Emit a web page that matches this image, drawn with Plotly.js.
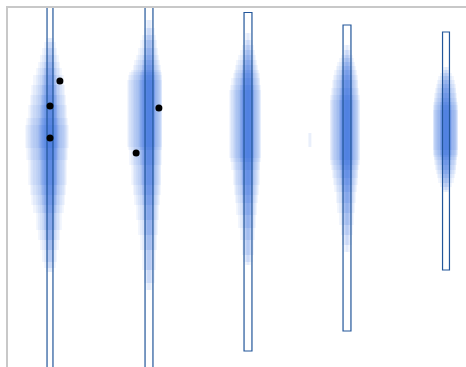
<!DOCTYPE html>
<html>
<head>
<meta charset="utf-8">
<script src="https://cdn.plot.ly/plotly-3.0.1.min.js"></script>
<style>
  html, body { margin: 0; padding: 0; background: #fff; }
  #chart { width: 466px; height: 367px; }
</style>
</head>
<body>
<div id="chart"></div>
<script>
// Five groups, each drawn as a stack of translucent density bands,
// an outlined range box and a few individual observations.
const categories = [1, 2, 3, 4, 5];

// Density bands, from the tallest/narrowest to the shortest/widest;
// one row per band, one entry per group.
const bandLow = [
  [95, 77, 102, 115, 175],
  [99, 84, 105, 122, 177],
  [105, 97, 112, 132, 180],
  [117, 117, 127, 142, 184],
  [127, 132, 139, 154, 189],
  [137, 147, 152, 164, 193],
  [154, 162, 164, 175, 197],
  [162, 172, 172, 182, 202],
  [172, 182, 182, 189, 207],
  [182, 202, 197, 197, 210],
  [207, 217, 205, 202, 212],
  [219, 220, 209, 207, 217]
];
const bandHigh = [
  [329, 347, 334, 322, 300],
  [325, 339, 327, 317, 297],
  [319, 332, 322, 312, 294],
  [312, 327, 317, 309, 291],
  [305, 319, 312, 305, 287],
  [299, 312, 307, 301, 283],
  [292, 307, 302, 297, 279],
  [282, 302, 297, 292, 274],
  [272, 297, 294, 287, 269],
  [262, 295, 289, 279, 265],
  [249, 292, 282, 272, 262],
  [242, 287, 277, 267, 257]
];
// Spread of each band to the left and right of its group (category units).
const bandLeft = [
  [0.04, 0.04, 0.03, 0.03, 0.03],
  [0.06, 0.05, 0.05, 0.05, 0.04],
  [0.08, 0.07, 0.06, 0.06, 0.06],
  [0.10, 0.09, 0.08, 0.08, 0.08],
  [0.12, 0.11, 0.10, 0.10, 0.09],
  [0.14, 0.13, 0.12, 0.11, 0.10],
  [0.17, 0.15, 0.13, 0.13, 0.11],
  [0.19, 0.16, 0.14, 0.14, 0.12],
  [0.20, 0.18, 0.15, 0.15, 0.12],
  [0.22, 0.20, 0.17, 0.16, 0.13],
  [0.24, 0.21, 0.18, 0.17, 0.13],
  [0.25, 0.22, 0.19, 0.17, 0.13]
];
const bandRight = [
  [0.04, 0.04, 0.03, 0.03, 0.03],
  [0.06, 0.06, 0.05, 0.05, 0.04],
  [0.07, 0.07, 0.06, 0.06, 0.06],
  [0.09, 0.08, 0.07, 0.07, 0.08],
  [0.10, 0.09, 0.08, 0.08, 0.09],
  [0.12, 0.10, 0.09, 0.09, 0.10],
  [0.14, 0.11, 0.10, 0.10, 0.10],
  [0.15, 0.12, 0.11, 0.11, 0.11],
  [0.16, 0.12, 0.12, 0.11, 0.11],
  [0.17, 0.13, 0.12, 0.12, 0.12],
  [0.18, 0.13, 0.13, 0.13, 0.12],
  [0.19, 0.13, 0.13, 0.13, 0.12]
];

// A lone faint band beside the fourth group.
const strayX = [4];
const strayLow = [220];
const strayHigh = [234];
const strayOffset = [-0.39];
const strayWidth = [0.03];

// Range boxes per group.
const boxLow = [-10, -10, 16, 36, 97];
const boxHigh = [375, 375, 354.5, 342, 335];
const boxWidth = [0.06, 0.08, 0.08, 0.08, 0.07];

// Individual observations.
const pointX = [1.10, 1.0, 1.0, 2.10, 1.87];
const pointY = [286, 261, 229, 259, 214];

// Each band is drawn twice: a faint full-width halo and a narrower core,
// so the density deepens towards the middle of each group.
const bandFill = 'rgba(38,100,218,0.065)';
const coreShare = 0.45;
const traces = [];

function bandTrace(low, high, left, right) {
  return {
    type: 'bar',
    x: categories,
    base: low,
    y: low.map((v, i) => high[i] - v),
    offset: left.map(v => -v),
    width: left.map((v, i) => v + right[i]),
    marker: { color: bandFill, line: { width: 0 } },
    hoverinfo: 'skip',
    showlegend: false
  };
}

bandLow.forEach((low, k) => {
  traces.push(bandTrace(low, bandHigh[k], bandLeft[k], bandRight[k]));
  traces.push(bandTrace(low, bandHigh[k],
    bandLeft[k].map(v => v * coreShare), bandRight[k].map(v => v * coreShare)));
});

traces.push({
  type: 'bar',
  x: strayX,
  base: strayLow,
  y: strayLow.map((v, i) => strayHigh[i] - v),
  offset: strayOffset,
  width: strayWidth,
  marker: { color: 'rgba(38,100,218,0.1)', line: { width: 0 } },
  hoverinfo: 'skip',
  showlegend: false
});

traces.push({
  type: 'bar',
  x: categories,
  base: boxLow,
  y: boxLow.map((v, i) => boxHigh[i] - v),
  width: boxWidth,
  marker: { color: 'rgba(0,0,0,0)', line: { color: '#22569a', width: 1.2 } },
  hoverinfo: 'skip',
  showlegend: false
});

traces.push({
  type: 'scatter',
  mode: 'markers',
  x: pointX,
  y: pointY,
  marker: { color: '#000', size: 7 },
  hoverinfo: 'skip',
  showlegend: false
});

const layout = {
  width: 466,
  height: 367,
  margin: { l: 8, t: 8, r: 0, b: 0, pad: 0 },
  paper_bgcolor: '#fff',
  plot_bgcolor: '#fff',
  barmode: 'overlay',
  showlegend: false,
  xaxis: {
    range: [0.5758, 5.202],
    side: 'top',
    showline: true, linecolor: '#c8c8c8', linewidth: 2,
    showgrid: false, zeroline: false, showticklabels: false, ticks: ''
  },
  yaxis: {
    range: [0, 359],
    showline: true, linecolor: '#c8c8c8', linewidth: 2,
    showgrid: false, zeroline: false, showticklabels: false, ticks: ''
  }
};

Plotly.newPlot('chart', traces, layout, { displayModeBar: false, staticPlot: true });
</script>
</body>
</html>
